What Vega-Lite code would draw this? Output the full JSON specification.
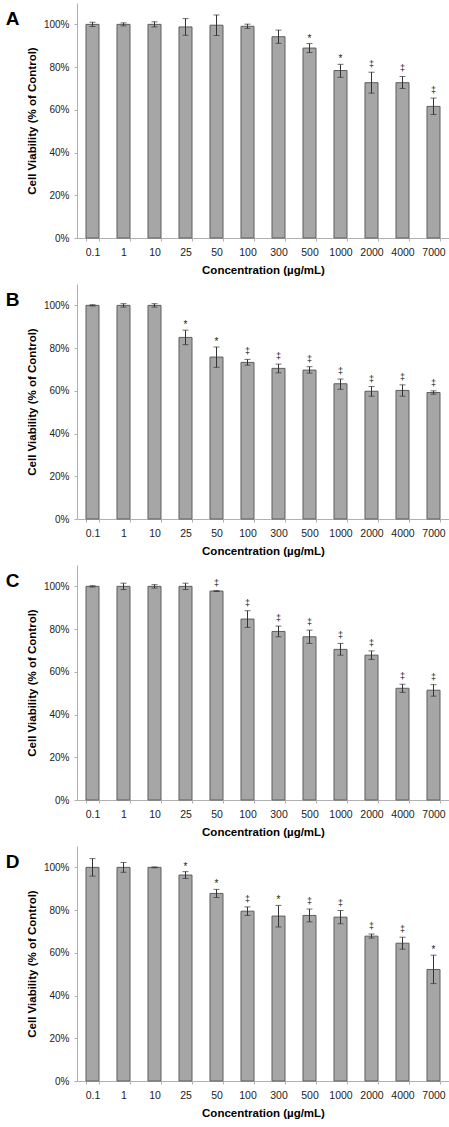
{
  "$schema": "https://vega.github.io/schema/vega-lite/v6.json",
  "padding": {"left": 5, "top": 3, "right": 4, "bottom": 0},
  "background": "white",
  "config": {
    "font": "Liberation Sans",
    "view": {"stroke": null}
  },
  "data": {
    "values": [
      {"panel": "A", "conc": "0.1", "v": 100, "lo": 99, "hi": 101, "sig": ""},
      {"panel": "A", "conc": "1", "v": 100, "lo": 99.3, "hi": 100.7, "sig": ""},
      {"panel": "A", "conc": "10", "v": 100, "lo": 98.8, "hi": 101.2, "sig": ""},
      {"panel": "A", "conc": "25", "v": 98.8, "lo": 94.9, "hi": 102.7, "sig": ""},
      {"panel": "A", "conc": "50", "v": 99.6, "lo": 94.8, "hi": 104.4, "sig": ""},
      {"panel": "A", "conc": "100", "v": 99.1, "lo": 98.1, "hi": 100.1, "sig": ""},
      {"panel": "A", "conc": "300", "v": 94.2, "lo": 91.1, "hi": 97.3, "sig": ""},
      {"panel": "A", "conc": "500", "v": 88.9, "lo": 86.8, "hi": 91.0, "sig": "*"},
      {"panel": "A", "conc": "1000", "v": 78.4, "lo": 75.2, "hi": 81.3, "sig": "*"},
      {"panel": "A", "conc": "2000", "v": 72.7, "lo": 67.8, "hi": 77.6, "sig": "‡"},
      {"panel": "A", "conc": "4000", "v": 72.7, "lo": 70.0, "hi": 75.6, "sig": "‡"},
      {"panel": "A", "conc": "7000", "v": 61.6, "lo": 57.8, "hi": 65.5, "sig": "‡"},
      {"panel": "B", "conc": "0.1", "v": 100, "lo": 99.7, "hi": 100.3, "sig": ""},
      {"panel": "B", "conc": "1", "v": 100, "lo": 99.2, "hi": 100.8, "sig": ""},
      {"panel": "B", "conc": "10", "v": 100, "lo": 99.2, "hi": 100.8, "sig": ""},
      {"panel": "B", "conc": "25", "v": 85.0, "lo": 81.6, "hi": 88.4, "sig": "*"},
      {"panel": "B", "conc": "50", "v": 75.8, "lo": 71.0, "hi": 80.5, "sig": "*"},
      {"panel": "B", "conc": "100", "v": 73.3, "lo": 72.0, "hi": 74.7, "sig": "‡"},
      {"panel": "B", "conc": "300", "v": 70.5, "lo": 68.4, "hi": 72.5, "sig": "‡"},
      {"panel": "B", "conc": "500", "v": 69.7, "lo": 68.3, "hi": 71.3, "sig": "‡"},
      {"panel": "B", "conc": "1000", "v": 63.3, "lo": 60.7, "hi": 65.5, "sig": "‡"},
      {"panel": "B", "conc": "2000", "v": 59.8, "lo": 57.5, "hi": 62.0, "sig": "‡"},
      {"panel": "B", "conc": "4000", "v": 60.2, "lo": 57.5, "hi": 62.8, "sig": "‡"},
      {"panel": "B", "conc": "7000", "v": 59.2, "lo": 58.4, "hi": 60.0, "sig": "‡"},
      {"panel": "C", "conc": "0.1", "v": 100, "lo": 99.7, "hi": 100.3, "sig": ""},
      {"panel": "C", "conc": "1", "v": 100, "lo": 98.5, "hi": 101.5, "sig": ""},
      {"panel": "C", "conc": "10", "v": 100, "lo": 99.2, "hi": 100.8, "sig": ""},
      {"panel": "C", "conc": "25", "v": 100, "lo": 98.5, "hi": 101.5, "sig": ""},
      {"panel": "C", "conc": "50", "v": 97.8, "lo": 97.6, "hi": 98.0, "sig": "‡"},
      {"panel": "C", "conc": "100", "v": 84.7, "lo": 80.8, "hi": 88.6, "sig": "‡"},
      {"panel": "C", "conc": "300", "v": 78.9, "lo": 76.4, "hi": 81.4, "sig": "‡"},
      {"panel": "C", "conc": "500", "v": 76.4, "lo": 73.3, "hi": 79.5, "sig": "‡"},
      {"panel": "C", "conc": "1000", "v": 70.5, "lo": 67.8, "hi": 73.3, "sig": "‡"},
      {"panel": "C", "conc": "2000", "v": 67.8, "lo": 65.8, "hi": 69.8, "sig": "‡"},
      {"panel": "C", "conc": "4000", "v": 52.3, "lo": 50.4, "hi": 54.2, "sig": "‡"},
      {"panel": "C", "conc": "7000", "v": 51.4, "lo": 48.6, "hi": 54.0, "sig": "‡"},
      {"panel": "D", "conc": "0.1", "v": 100, "lo": 95.9, "hi": 104.1, "sig": ""},
      {"panel": "D", "conc": "1", "v": 100, "lo": 97.7, "hi": 102.3, "sig": ""},
      {"panel": "D", "conc": "10", "v": 100, "lo": 99.8, "hi": 100.2, "sig": ""},
      {"panel": "D", "conc": "25", "v": 96.4, "lo": 94.8, "hi": 98.0, "sig": "*"},
      {"panel": "D", "conc": "50", "v": 87.8, "lo": 85.9, "hi": 89.7, "sig": "*"},
      {"panel": "D", "conc": "100", "v": 79.5, "lo": 77.5, "hi": 81.5, "sig": "‡"},
      {"panel": "D", "conc": "300", "v": 77.2, "lo": 72.1, "hi": 82.2, "sig": "*"},
      {"panel": "D", "conc": "500", "v": 77.5, "lo": 74.5, "hi": 80.5, "sig": "‡"},
      {"panel": "D", "conc": "1000", "v": 76.7, "lo": 73.6, "hi": 79.8, "sig": "‡"},
      {"panel": "D", "conc": "2000", "v": 67.8, "lo": 66.9, "hi": 68.8, "sig": "‡"},
      {"panel": "D", "conc": "4000", "v": 64.5, "lo": 61.7, "hi": 67.3, "sig": "‡"},
      {"panel": "D", "conc": "7000", "v": 52.2, "lo": 45.6, "hi": 58.9, "sig": "*"}
    ]
  },
  "facet": {
    "row": {
      "field": "panel",
      "type": "nominal",
      "header": {
        "title": null,
        "labelOrient": "left",
        "labelAngle": 0,
        "labelAnchor": "end",
        "labelAlign": "left",
        "labelBaseline": "line-top",
        "labelLineHeight": 32,
        "labelFontSize": 19,
        "labelFontWeight": "bold",
        "labelColor": "black",
        "labelPadding": 7
      }
    }
  },
  "spacing": 8,
  "resolve": {"axis": {"x": "independent"}},
  "spec": {
    "width": 372,
    "height": 235,
    "encoding": {
      "x": {
        "field": "conc",
        "type": "ordinal",
        "sort": ["0.1", "1", "10", "25", "50", "100", "300", "500", "1000", "2000", "4000", "7000"],
        "scale": {"paddingInner": 0.58, "paddingOuter": 0.29},
        "axis": {
          "title": "Concentration (µg/mL)",
          "titleFontSize": 11.5,
          "titleFontWeight": "bold",
          "titleColor": "black",
          "titlePadding": 7,
          "labelAngle": 0,
          "labelFontSize": 10.5,
          "labelColor": "#222",
          "labelPadding": 6,
          "tickBand": "extent",
          "tickSize": 3,
          "tickColor": "#b0b0b0",
          "domainColor": "#b0b0b0"
        }
      }
    },
    "layer": [
      {
        "mark": {"type": "bar", "fill": "#a6a6a6", "stroke": "#5e5e5e", "strokeWidth": 1},
        "encoding": {
          "y": {
            "field": "v",
            "type": "quantitative",
            "scale": {"domain": [0, 110], "nice": false},
            "axis": {
              "title": "Cell Viability (% of Control)",
              "titleFontSize": 11.5,
              "titleFontWeight": "bold",
              "titleColor": "black",
              "titlePadding": 6,
              "values": [0, 20, 40, 60, 80, 100],
              "labelExpr": "datum.value + '%'",
              "labelFontSize": 10,
              "labelColor": "#222",
              "labelPadding": 5,
              "tickSize": 3,
              "tickColor": "#b0b0b0",
              "domainColor": "#b0b0b0",
              "grid": false
            }
          }
        }
      },
      {
        "mark": {"type": "rule", "color": "#333", "strokeWidth": 1},
        "encoding": {
          "y": {"field": "lo", "type": "quantitative"},
          "y2": {"field": "hi"}
        }
      },
      {
        "mark": {"type": "tick", "color": "#333", "size": 6, "thickness": 1},
        "encoding": {"y": {"field": "lo", "type": "quantitative"}}
      },
      {
        "mark": {"type": "tick", "color": "#333", "size": 6, "thickness": 1},
        "encoding": {"y": {"field": "hi", "type": "quantitative"}}
      },
      {
        "transform": [{"filter": "datum.sig == '*'"}],
        "mark": {"type": "text", "fontSize": 10, "baseline": "alphabetic", "dy": -2, "color": "#222"},
        "encoding": {
          "y": {"field": "hi", "type": "quantitative"},
          "text": {"field": "sig"}
        }
      },
      {
        "transform": [{"filter": "datum.sig == '‡'"}],
        "mark": {"type": "text", "fontSize": 9, "baseline": "alphabetic", "dy": -5, "color": "#222"},
        "encoding": {
          "y": {"field": "hi", "type": "quantitative"},
          "text": {"field": "sig"}
        }
      }
    ]
  }
}
